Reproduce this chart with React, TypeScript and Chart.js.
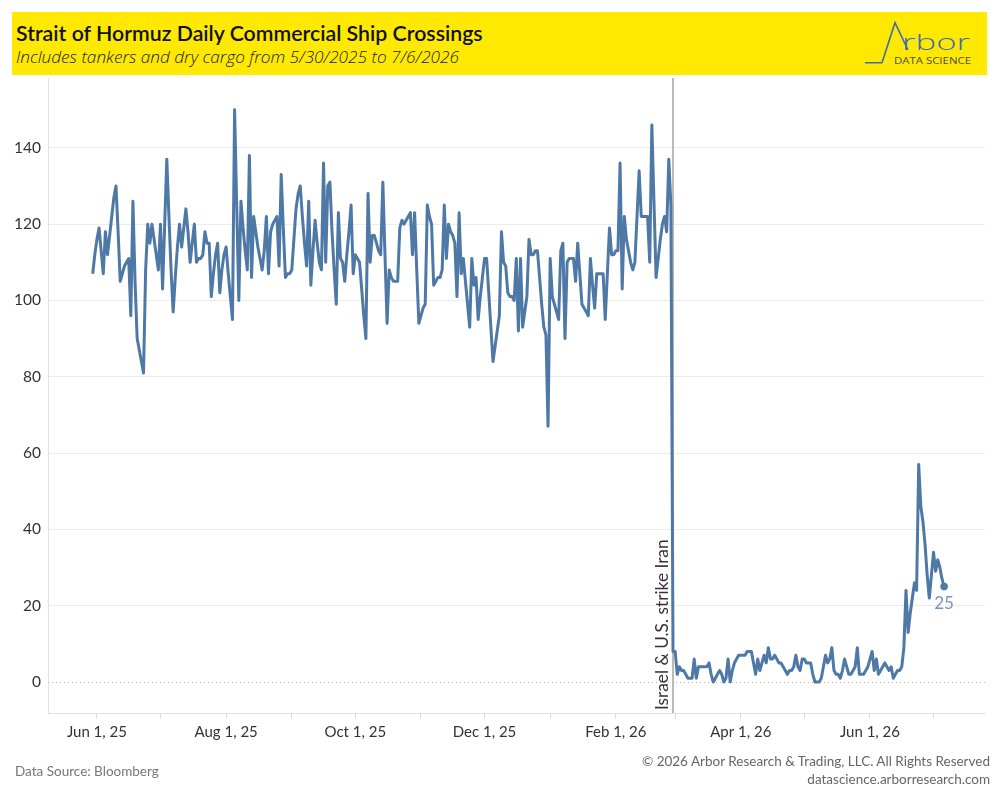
import React, { useRef, useEffect } from 'react';
import { Chart, registerables } from 'chart.js';

Chart.register(...registerables);

// daily crossings, first value is 5/30/2025
const START = Date.UTC(2025, 4, 30);
const dayOf = (y: number, m: number, d: number) =>
  Math.round((Date.UTC(y, m - 1, d) - START) / 86400000);

// 5/30/2025 .. 2/27/2026
const crossingsBefore = [
  107, 112, 116, 119, 113, 107, 118, 112, 117, 122,
  127, 130, 118, 105, 107, 109, 110, 111, 96, 126,
  105, 90, 87, 84, 81, 108, 120, 115, 120, 116,
  112, 108, 120, 103, 120, 137, 122, 108, 97, 106,
  114, 120, 114, 119, 124, 118, 110, 115, 120, 110,
  111, 111, 112, 118, 115, 115, 101, 107, 112, 115,
  102, 108, 112, 114, 107, 101, 95, 150, 125, 100,
  126, 119, 113, 108, 138, 106, 122, 118, 114, 111,
  108, 113, 122, 107, 118, 120, 121, 122, 109, 133,
  119, 106, 107, 107, 108, 116, 124, 128, 130, 122,
  115, 109, 126, 104, 113, 121, 115, 110, 108, 136,
  110, 130, 131, 118, 108, 99, 123, 111, 110, 105,
  112, 118, 125, 107, 112, 111, 110, 103, 96, 90,
  128, 110, 117, 117, 115, 113, 112, 131, 112, 94,
  108, 106, 105, 105, 105, 119, 121, 120, 121, 122,
  123, 112, 123, 108, 94, 96, 98, 99, 125, 122,
  120, 104, 105, 106, 106, 108, 125, 111, 120, 118,
  117, 115, 101, 123, 107, 111, 105, 99, 93, 111,
  104, 106, 95, 101, 106, 111, 111, 102, 93, 84,
  88, 92, 96, 118, 110, 109, 102, 101, 101, 100,
  111, 92, 111, 93, 97, 101, 116, 112, 112, 113,
  113, 106, 99, 93, 91, 67, 111, 101, 99, 97,
  95, 113, 115, 90, 110, 111, 111, 111, 105, 115,
  107, 99, 98, 97, 96, 111, 104, 98, 107, 107,
  107, 107, 95, 107, 119, 112, 112, 113, 113, 136,
  103, 122, 116, 113, 110, 108, 110, 122, 134, 122,
  122, 122, 122, 110, 146, 126, 106, 111, 116, 120,
  122, 118, 137, 125,
];

// 2/28/2026 .. 7/6/2026
const crossingsAfter = [
  8, 8, 2, 4, 3, 3, 2, 1, 1, 1,
  6, 1, 4, 4, 4, 4, 4, 5, 2, 0,
  1, 2, 3, 2, 0, 1, 6, 0, 3, 5,
  6, 7, 7, 7, 7, 8, 8, 8, 5, 2,
  6, 3, 5, 7, 5, 9, 6, 6, 7, 6,
  5, 5, 4, 3, 2, 3, 3, 4, 7, 4,
  3, 6, 6, 5, 5, 5, 2, 0, 0, 0,
  1, 4, 7, 5, 6, 9, 3, 2, 2, 1,
  3, 6, 4, 2, 2, 3, 4, 9, 2, 2,
  2, 3, 4, 6, 8, 3, 6, 2, 3, 4,
  5, 4, 3, 4, 1, 2, 3, 3, 4, 9,
  24, 13, 18, 22, 26, 24, 57, 46, 42, 36,
  28, 22, 28, 34, 29, 32, 30, 27, 25,
];

const tickMonths: [number, number][] = [
  [2025, 6], [2025, 7], [2025, 8], [2025, 9], [2025, 10], [2025, 11], [2025, 12],
  [2026, 1], [2026, 2], [2026, 3], [2026, 4], [2026, 5], [2026, 6], [2026, 7],
];
const tickLabels = [
  'Jun 1, 25', '', 'Aug 1, 25', '', 'Oct 1, 25', '', 'Dec 1, 25',
  '', 'Feb 1, 26', '', 'Apr 1, 26', '', 'Jun 1, 26', '',
];
const yTicks = [0, 20, 40, 60, 80, 100, 120, 140];

const strikeDay = dayOf(2026, 2, 28);
const strikeText = 'Israel & U.S. strike Iran';

const LINE = '#4e79a7';

const annotations = {
  id: 'annotations',
  beforeDatasetsDraw(chart: any) {
    const { ctx, chartArea: a, scales } = chart;
    ctx.save();
    // dotted zero line
    const y0 = Math.round(scales.y.getPixelForValue(0)) + 0.5;
    ctx.strokeStyle = '#b8b8b8';
    ctx.lineWidth = 1;
    ctx.setLineDash([1, 3]);
    ctx.beginPath();
    ctx.moveTo(a.left, y0);
    ctx.lineTo(a.right, y0);
    ctx.stroke();
    // strike marker
    ctx.setLineDash([]);
    const xs = scales.x.getPixelForValue(strikeDay);
    ctx.strokeStyle = '#a9a9a9';
    ctx.lineWidth = 1.6;
    ctx.beginPath();
    ctx.moveTo(xs, a.top);
    ctx.lineTo(xs, a.bottom);
    ctx.stroke();
    ctx.restore();
  },
  afterDatasetsDraw(chart: any) {
    const { ctx, chartArea: a, scales } = chart;
    const xs = scales.x.getPixelForValue(strikeDay);
    ctx.save();
    ctx.translate(xs - 11, a.bottom - 3);
    ctx.rotate(-Math.PI / 2);
    ctx.font = '17.3px Lato';
    ctx.fillStyle = '#333';
    ctx.textAlign = 'left';
    ctx.textBaseline = 'middle';
    ctx.fillText(strikeText, 0, 0);
    ctx.restore();

    // last value label
    const meta = chart.getDatasetMeta(0);
    const last = meta.data[meta.data.length - 1];
    const lastVal = crossingsAfter[crossingsAfter.length - 1];
    ctx.save();
    ctx.font = '17px Lato';
    ctx.fillStyle = '#7196c4';
    ctx.textAlign = 'center';
    ctx.textBaseline = 'top';
    ctx.fillText(String(lastVal), last.x, last.y + 8);
    ctx.restore();
  },
};

const Logo: React.FC = () => (
  <svg width={130} height={60} viewBox="0 0 130 60" style={{ position: 'absolute', left: 858, top: 14 }}>
    <polyline points="7,48.7 24,48.7 37,8.7 50,36" fill="none" stroke="#3d6cb3" strokeWidth={1.6} />
    <text x={44} y={36} fontFamily="Open Sans" fontWeight={300} fontSize={22} fill="#3d6cb3"
      textLength={68} lengthAdjust="spacingAndGlyphs">rbor</text>
    <text x={36} y={49.5} fontFamily="Open Sans" fontSize={9} fill="#4d4d4d"
      textLength={77} lengthAdjust="spacingAndGlyphs">DATA SCIENCE</text>
  </svg>
);

const App: React.FC = () => {
  const canvasRef = useRef<HTMLCanvasElement>(null);
  const chartRef = useRef<Chart | null>(null);

  useEffect(() => {
    if (!canvasRef.current) return;
    const ctx = canvasRef.current.getContext('2d');
    if (!ctx) return;

    const values = [...crossingsBefore, ...crossingsAfter];
    const points = values.map((v, i) => ({ x: i, y: v }));
    const lastIndex = points.length - 1;
    const tickDays = tickMonths.map(([y, m]) => dayOf(y, m, 1));

    chartRef.current = new Chart(ctx, {
      type: 'line',
      data: {
        datasets: [
          {
            data: points,
            borderColor: LINE,
            backgroundColor: LINE,
            borderWidth: 3,
            tension: 0,
            borderJoinStyle: 'round',
            pointRadius: (c: any) => (c.dataIndex === lastIndex ? 3.8 : 0),
            pointBorderWidth: 0,
            pointBackgroundColor: LINE,
          },
        ],
      },
      options: {
        responsive: false,
        animation: false,
        layout: { padding: { top: 78, right: 15, bottom: 47, left: 0 } },
        plugins: {
          legend: { display: false },
          tooltip: { enabled: false },
        },
        scales: {
          x: {
            type: 'linear',
            min: -21.1,
            max: 421.3,
            afterFit: (s: any) => { s.height = 40; },
            afterBuildTicks: (s: any) => { s.ticks = tickDays.map(v => ({ value: v })); },
            grid: { drawOnChartArea: false, drawTicks: true, tickLength: 6, tickColor: '#dcdcdc' },
            border: { display: true, color: '#e2e2e2' },
            ticks: {
              autoSkip: false,
              maxRotation: 0,
              padding: 4,
              color: '#333',
              font: { family: 'Lato', size: 15 },
              callback: (_v: any, i: number) => tickLabels[i],
            },
          },
          y: {
            min: -8.13,
            max: 158.3,
            afterFit: (s: any) => { s.width = 48; },
            afterBuildTicks: (s: any) => { s.ticks = yTicks.map(v => ({ value: v })); },
            grid: {
              drawTicks: false,
              color: (c: any) => (c.tick && c.tick.value === 0 ? 'rgba(0,0,0,0)' : '#ececec'),
            },
            border: { display: true, color: '#e2e2e2' },
            ticks: {
              padding: 7,
              color: '#333',
              font: { family: 'Lato', size: 15.5 },
            },
          },
        },
      },
      plugins: [annotations],
    });

    return () => {
      if (chartRef.current) {
        chartRef.current.destroy();
        chartRef.current = null;
      }
    };
  }, []);

  return (
    <div style={{ position: 'absolute', left: 0, top: 0, width: 1000, height: 800, background: '#fff', overflow: 'hidden' }}>
      <canvas ref={canvasRef} width={1000} height={800}
        style={{ position: 'absolute', left: 0, top: 0, width: 1000, height: 800 }} />
      <div style={{ position: 'absolute', left: 12, top: 12, width: 975, height: 63, background: '#ffe900' }} />
      <div style={{ position: 'absolute', left: 16, top: 19, fontFamily: 'Lato', fontWeight: 600, fontSize: 21.3, lineHeight: '28px', color: '#111', whiteSpace: 'nowrap' }}>
        Strait of Hormuz Daily Commercial Ship Crossings
      </div>
      <div style={{ position: 'absolute', left: 16, top: 45, fontFamily: 'Open Sans', fontStyle: 'italic', fontWeight: 300, fontSize: 17.2, lineHeight: '24px', color: '#222', whiteSpace: 'nowrap' }}>
        Includes tankers and dry cargo from 5/30/2025 to 7/6/2026
      </div>
      <Logo />
      <div style={{ position: 'absolute', left: 15, top: 762, fontFamily: 'Lato', fontSize: 13.5, lineHeight: '18px', color: '#777', whiteSpace: 'nowrap' }}>
        Data Source: Bloomberg
      </div>
      <div style={{ position: 'absolute', right: 10, top: 753, textAlign: 'right', fontFamily: 'Lato', fontSize: 13.5, lineHeight: '17.5px', color: '#666', whiteSpace: 'nowrap' }}>
        © 2026 Arbor Research &amp; Trading, LLC. All Rights Reserved
        <br />
        datascience.arborresearch.com
      </div>
    </div>
  );
};

export default App;
